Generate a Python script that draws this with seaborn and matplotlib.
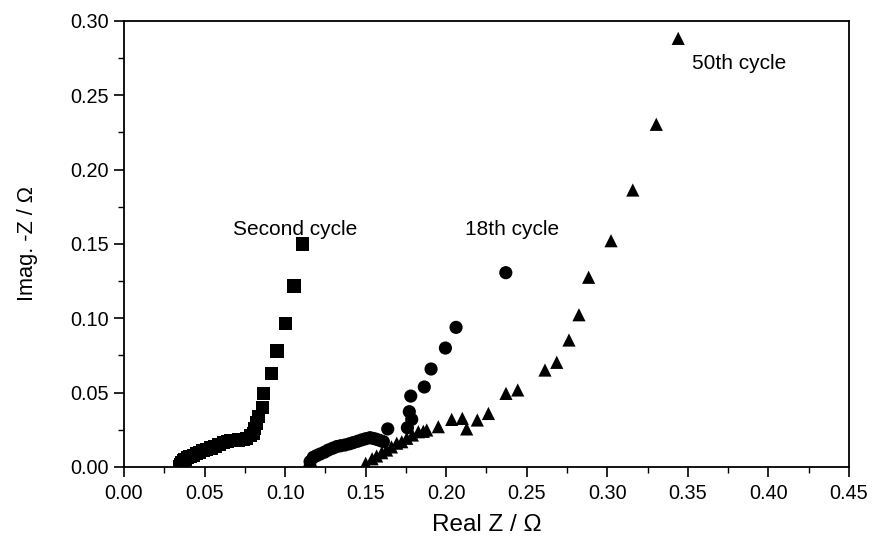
import matplotlib
matplotlib.use("Agg")
import matplotlib.pyplot as plt
import seaborn as sns
import pandas as pd
from matplotlib.ticker import MultipleLocator, FormatStrFormatter

# Second cycle (squares)
x_second = [0.0343, 0.0350, 0.0358, 0.0368, 0.0379, 0.0395, 0.0410, 0.0430, 0.0450,
            0.0470, 0.0490, 0.0513, 0.0540, 0.0565, 0.0590, 0.0617, 0.0640, 0.0660,
            0.0690, 0.0710, 0.0740, 0.0762, 0.0785, 0.0803, 0.0812, 0.0820, 0.0834,
            0.0859, 0.0867, 0.0917, 0.0950, 0.1001, 0.1055, 0.1110]
y_second = [0.0000, 0.0015, 0.0029, 0.0040, 0.0052, 0.0063, 0.0070, 0.0080, 0.0090,
            0.0100, 0.0110, 0.0119, 0.0128, 0.0137, 0.0150, 0.0165, 0.0172, 0.0177,
            0.0180, 0.0182, 0.0187, 0.0193, 0.0210, 0.0227, 0.0260, 0.0296, 0.0338,
            0.0400, 0.0493, 0.0630, 0.0780, 0.0966, 0.1217, 0.1500]

# 18th cycle (circles)
x_18 = [0.1155, 0.1155, 0.1175, 0.1195, 0.1217, 0.1245, 0.1268, 0.1295, 0.1320,
        0.1345, 0.1372, 0.1400, 0.1423, 0.1450, 0.1475, 0.1500, 0.1527, 0.1548,
        0.1568, 0.1590, 0.1610, 0.1637, 0.1759, 0.1786, 0.1771, 0.1780, 0.1864,
        0.1906, 0.1995, 0.2061, 0.2370]
y_18 = [0.0002, 0.0036, 0.0065, 0.0076, 0.0087, 0.0100, 0.0114, 0.0126, 0.0137,
        0.0143, 0.0148, 0.0156, 0.0164, 0.0173, 0.0182, 0.0190, 0.0197, 0.0192,
        0.0186, 0.0178, 0.0170, 0.0256, 0.0264, 0.0320, 0.0372, 0.0477, 0.0538,
        0.0659, 0.0800, 0.0939, 0.1307]

# 50th cycle (triangles)
x_50 = [0.1500, 0.1540, 0.1568, 0.1600, 0.1630, 0.1660, 0.1693, 0.1724, 0.1755,
        0.1790, 0.1827, 0.1858, 0.1879, 0.1951, 0.2034, 0.2100, 0.2127, 0.2193,
        0.2262, 0.2371, 0.2444, 0.2613, 0.2686, 0.2762, 0.2824, 0.2884, 0.3023,
        0.3158, 0.3304, 0.3440]
y_50 = [0.0025, 0.0055, 0.0074, 0.0096, 0.0114, 0.0135, 0.0160, 0.0170, 0.0193,
        0.0215, 0.0237, 0.0240, 0.0249, 0.0271, 0.0320, 0.0327, 0.0256, 0.0316,
        0.0360, 0.0495, 0.0518, 0.0652, 0.0704, 0.0854, 0.1024, 0.1276, 0.1522,
        0.1863, 0.2305, 0.2883]

labels = ["Second cycle", "18th cycle", "50th cycle"]
label_pos = [(0.0677, 0.160), (0.2117, 0.160), (0.3526, 0.2717)]

df = pd.concat([
    pd.DataFrame({"x": x_second, "y": y_second, "cycle": labels[0]}),
    pd.DataFrame({"x": x_18, "y": y_18, "cycle": labels[1]}),
    pd.DataFrame({"x": x_50, "y": y_50, "cycle": labels[2]}),
], ignore_index=True)

sns.set_theme(style="ticks")
plt.rcParams["font.family"] = ["Liberation Sans", "DejaVu Sans"]
plt.rcParams["text.color"] = "black"
plt.rcParams["axes.labelcolor"] = "black"

fig = plt.figure(figsize=(8.72, 5.42), dpi=100)
ax = fig.add_axes([0.1422, 0.1384, 0.9736 - 0.1422, 0.9613 - 0.1384])

sns.scatterplot(data=df, x="x", y="y", style="cycle", hue="cycle",
                palette=["black", "black", "black"],
                markers={labels[0]: "s", labels[1]: "o", labels[2]: "^"},
                s=90, linewidth=0, ax=ax, legend=False, zorder=3)

for lab, (lx, ly) in zip(labels, label_pos):
    ax.text(lx, ly, lab, ha="left", va="center", fontsize=15, color="black")

ax.set_xlim(0.0, 0.45)
ax.set_ylim(0.0, 0.30)
ax.xaxis.set_major_locator(MultipleLocator(0.05))
ax.xaxis.set_minor_locator(MultipleLocator(0.025))
ax.yaxis.set_major_locator(MultipleLocator(0.05))
ax.yaxis.set_minor_locator(MultipleLocator(0.025))
ax.xaxis.set_major_formatter(FormatStrFormatter("%.2f"))
ax.yaxis.set_major_formatter(FormatStrFormatter("%.2f"))

ax.tick_params(which="major", direction="out", length=7, width=1.2, labelsize=14.3,
               color="black", labelcolor="black", top=False, right=False)
ax.tick_params(axis="x", which="major", pad=5)
ax.tick_params(axis="y", which="major", pad=4)
ax.tick_params(which="minor", direction="out", length=4, width=1.0,
               color="black", top=False, right=False)

for sp in ax.spines.values():
    sp.set_visible(True)
    sp.set_linewidth(1.3)
    sp.set_color("black")

ax.set_xlabel("Real Z / \u03a9", fontsize=17.5, color="black", va="center")
ax.set_ylabel("Imag. -Z / \u03a9", fontsize=15.7, color="black", va="center")
ax.xaxis.set_label_coords(0.5, (467 - 525) / 446)
ax.yaxis.set_label_coords((27 - 124) / 725, 0.5)

fig.savefig("out.png", dpi=100)
